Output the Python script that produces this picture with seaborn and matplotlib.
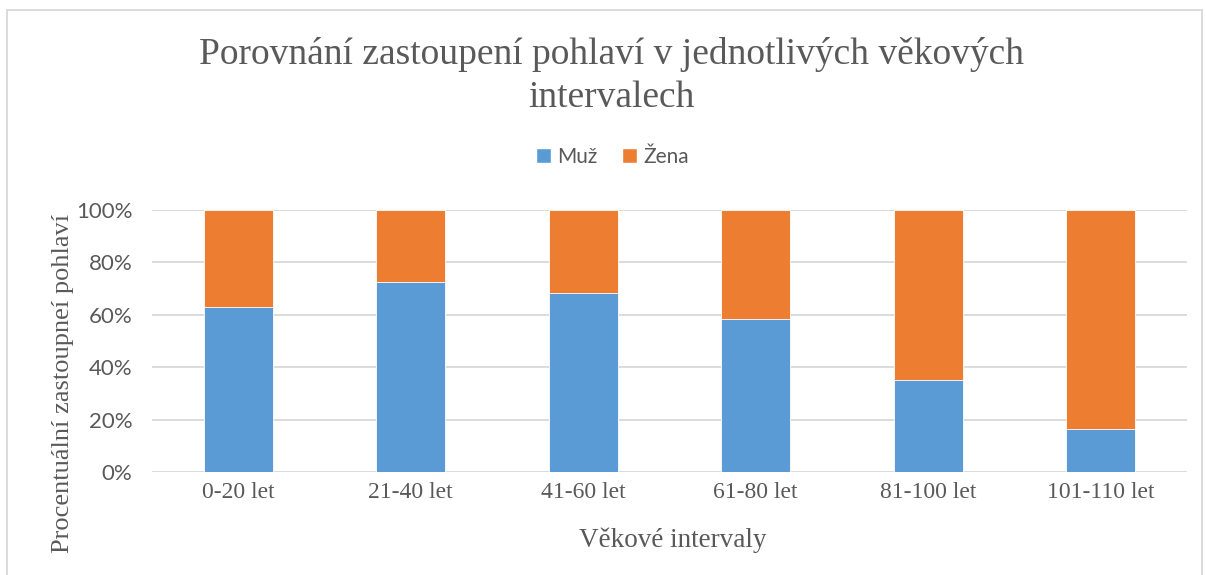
import pandas as pd
import matplotlib.pyplot as plt
import seaborn as sns
from matplotlib.patches import Patch, Rectangle

# data
intervaly = ['0-20 let', '21-40 let', '41-60 let', '61-80 let', '81-100 let', '101-110 let']
muz = [62.9, 72.4, 68.4, 58.3, 35.0, 16.5]
zena = [100 - m for m in muz]

df = pd.DataFrame({'interval': intervaly, 'Muž': muz, 'Žena': zena})
df['celkem'] = df['Muž'] + df['Žena']

blue = '#5B9BD5'
orange = '#ED7D31'
txt = '#595959'
serif = 'Liberation Serif'
sans = 'Lato'

sns.set_style('white')
plt.rcParams['font.family'] = ['Liberation Serif', 'DejaVu Serif']

fig = plt.figure(figsize=(12.06, 5.75), dpi=100)
ax = fig.add_axes([0.126, 0.179, 0.858, 0.456])

# stacked bars: total (Žena on top) drawn first, Muž over it
sns.barplot(data=df, x='interval', y='celkem', color=orange, width=0.4, saturation=1,
            edgecolor='white', linewidth=0.6, ax=ax, zorder=3)
sns.barplot(data=df, x='interval', y='Muž', color=blue, width=0.4, saturation=1,
            edgecolor='white', linewidth=0.6, ax=ax, zorder=3)

ax.set_ylim(0, 100)
ax.set_xlim(-0.5, 5.5)
ax.set_yticks(range(0, 101, 20))
ax.set_yticklabels([f'{v}%' for v in range(0, 101, 20)], fontfamily=sans,
                   fontsize=16, color=txt)
ax.set_xticks(range(len(intervaly)))
ax.set_xticklabels(intervaly, fontfamily=serif, fontsize=17, color=txt)
ax.tick_params(axis='x', length=0, pad=7)
ax.tick_params(axis='y', length=0, pad=14)

ax.grid(axis='y', color='#d9d9d9', linewidth=1.3, zorder=0)
for s in ax.spines.values():
    s.set_visible(False)

ax.set_xlabel('')
ax.set_ylabel('')
fig.text(0.558, 1 - 540 / 575, 'Věkové intervaly', ha='center', va='center',
         fontfamily=serif, fontsize=19.5, color=txt)
fig.text(0.052, 1 - 383 / 575, 'Procentuální zastoupneí pohlaví', ha='center',
         va='center', rotation=90, fontfamily=serif, fontsize=19, color=txt)

fig.text(0.507, 1 - 76 / 575, 'Porovnání zastoupení pohlaví v jednotlivých věkových\nintervalech',
         ha='center', va='center', fontfamily=serif, fontsize=27, color=txt,
         linespacing=1.32)

handles = [Patch(facecolor=blue, label='Muž'), Patch(facecolor=orange, label='Žena')]
fig.legend(handles=handles, loc='center', bbox_to_anchor=(0.508, 0.727), ncol=2,
           frameon=False, prop={'family': sans, 'size': 15}, labelcolor=txt,
           handlelength=0.7, handleheight=0.7, handletextpad=0.3, columnspacing=1.2)

# chart frame
fig.patches.append(Rectangle((0.006, -0.02), 0.991, 1 - 10 / 575 + 0.02,
                             transform=fig.transFigure, fill=False,
                             edgecolor='#d9d9d9', linewidth=1.3))

fig.savefig('out.png', dpi=100, facecolor='white')
